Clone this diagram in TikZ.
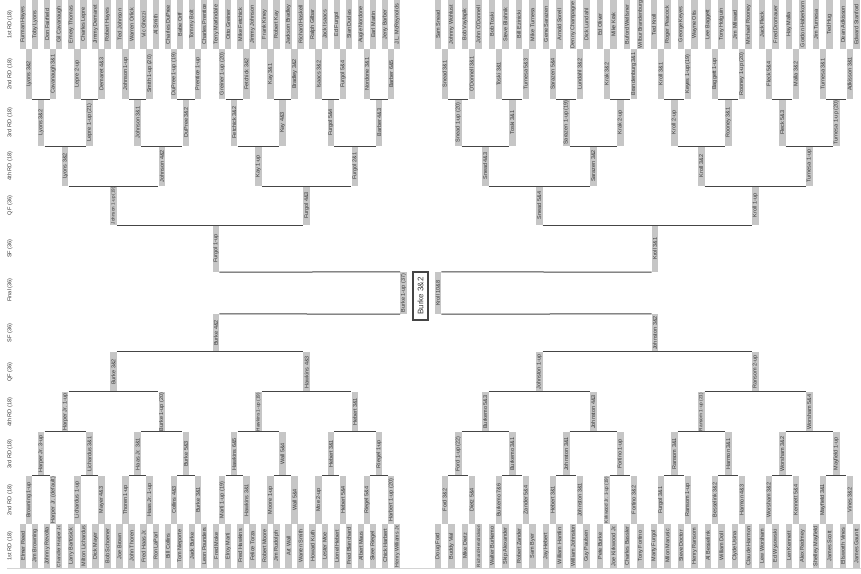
\documentclass[tikz,border=0pt]{standalone}
\usepackage{fontspec}
\setmainfont{Liberation Sans}
\usepackage{graphicx}
\definecolor{boxg}{HTML}{C6C6C6}
\definecolor{txt}{HTML}{383838}
\definecolor{lin}{HTML}{454545}
\definecolor{basel}{HTML}{D4D4D4}
\newsavebox\fitsbox
\newcommand\fitto[2]{\sbox\fitsbox{#2}\ifdim\wd\fitsbox>#1\relax\resizebox{#1}{!}{\usebox\fitsbox}\else\usebox\fitsbox\fi}
\tikzset{
  bx/.style={rotate=90, fill=boxg, inner sep=0pt, minimum height=6.5pt, text=txt, font=\fontsize{5.5}{6}\selectfont},
  conn/.style={draw=lin, line width=1pt},
  rlab/.style={rotate=90, text=txt, inner sep=0pt, font=\fontsize{5.6}{6}\selectfont},
  champ/.style={rotate=90, draw=lin, line width=1.4pt, fill=white, inner sep=0pt, minimum width=48pt, minimum height=15pt, text=txt, font=\fontsize{8}{9}\selectfont},
}
% #1 prefix, #2 first x, #3 step, #4 y centre, #5 height, #6 fit length, #7 list
\newcommand\rnd[7]{\foreach \t [count=\i from 0] in {#7}{\node[bx,minimum width=#5pt] (#1-\i) at ({#2+#3*\i},#4) {\fitto{#6pt}{\t}};}}
\newcommand\prT[2]{\foreach \j in {0,...,#2}{\pgfmathtruncatemacro\ja{2*\j}\pgfmathtruncatemacro\jb{2*\j+1}\draw[conn] (#1-\ja.south west) -- (#1-\jb.north west);}}
\newcommand\prB[2]{\foreach \j in {0,...,#2}{\pgfmathtruncatemacro\ja{2*\j}\pgfmathtruncatemacro\jb{2*\j+1}\draw[conn] (#1-\ja.south east) -- (#1-\jb.north east);}}
\begin{document}
\begin{tikzpicture}[x=1pt,y=-1pt]
\useasboundingbox[fill=white] (0,0) rectangle (861,573);
% row labels
\node[rlab] (l1) at (10,24.5) {1st RD (18)};
\node[rlab] (l2) at (10,74) {2nd RD (18)};
\node[rlab] (l3) at (10,122.5) {3rd RD (18)};
\node[rlab] (l4) at (10,166) {4th RD (18)};
\node[rlab] (l5) at (10,205.5) {QF (36)};
\node[rlab] (l6) at (10,248.5) {SF (36)};
\node[rlab] (l7) at (10,290) {Final (36)};
\node[rlab] (l8) at (10,333) {SF (36)};
\node[rlab] (l9) at (10,372) {QF (36)};
\node[rlab] (l10) at (10,412) {4th RD (18)};
\node[rlab] (l11) at (10,454) {3rd RD (18)};
\node[rlab] (l12) at (10,500) {2nd RD (18)};
\node[rlab] (l13) at (10,546) {1st RD (18)};
% base line
\coordinate (bl0) at (7,568);
\coordinate (bl1) at (861,568);
\draw[basel, line width=0.8pt] (bl0) -- (bl1);
% ===== top left =====
\rnd{TLa}{23}{12.07}{24.5}{49}{47}{Furman Hayes, Toby Lyons, Don Fairfield, Gil Cavanaugh, Emery Thomas, Charles Lepre, Jimmy Demaret, Robert Hayes, Ted Johnson, Warren Orlick, Vic Ghezzi, Al Smith, Charles DuPree, Babe Orff, Tommy Bolt, Charles Prentice, Terry Martindale, Otto Greiner, Mike Fetchick, Jimmy Johnson, Frank Kiney, Robert Kay, Jackson Bradley, Richard Haskell, Ralph Gilbar, Jack Isaacs, Ed Furgol, Stan Dudas, Augie Nordone, Earl Martin, Jerry Barber, J.L. McReynolds}
\rnd{TLb}{29.035}{24.14}{74}{50}{48}{Lyons 3\&2, Cavanaugh 3\&1, Lepre 2-up, Demaret 4\&3, Johnson 1-up, Smith 1-up (20), DuPree 1-up (19), Prentice 1-up, Greiner 1-up (20), Fetchick 3\&2, Kay 3\&1, Bradley 3\&2, Isaacs 3\&2, Furgol 5\&4, Nordone 3\&1, Barber 6\&5}
\rnd{TLc}{41.105}{48.28}{122.5}{47}{45}{Lyons 3\&2, Lepre 1-up (21), Johnson 3\&1, DuPree 3\&2, Fetchick 3\&2, Kay 4\&3, Furgol 5\&4, Barber 4\&3}
\rnd{TLd}{65.245}{96.56}{166}{40}{38}{Lyons 3\&2, Johnson 4\&2, Kay 1-up, Furgol 2\&1}
\rnd{TLe}{113.525}{193.12}{205.5}{39}{37}{Johnson 1-up (19), Furgol 4\&3}
\rnd{TLf}{216}{0}{248.5}{47}{45}{Furgol 1-up}
% ===== top right =====
\rnd{TRa}{438}{13.5}{24.5}{49}{47}{Sam Snead, Johnny Wohlust, Bob Vaylapik, John O'Donnell, Bob Toski, Steve Blahnik, Bill Ezinicki, Mike Turnesa, Gene Sarazen, Arnold Sorell, Denny Champagne, Dick Lundahl, Ed Oliver, Mike Krak, Buford Wellsner, Wilbur Brandenburg, Ted Kroll, Roger Peacock, George Keyes, Wayne Otis, Lee Baggett, Tony Holguin, Jim Milward, Michael Rooney, Jack Fleck, Fred Dromauer, Hay Malla, Gordon Haberkorn, Jim Turnesa, Ted Hug, Dean Adkisson, Edward Stanford}
\rnd{TRb}{444.75}{27}{74}{50}{48}{Snead 3\&1, O'Donnell 3\&1, Toski 3\&1, Turnesa 5\&3, Sarazen 5\&4, Lundahl 3\&2, Krak 3\&2, Brandenburg 3\&1, Kroll 3\&1, Keyes 1-up (19), Baggett 1-up, Rooney 1-up (20), Fleck 5\&4, Malla 3\&2, Turnesa 3\&1, Adkisson 3\&1}
\rnd{TRc}{458.25}{54}{122.5}{47}{45}{Snead 1-up (20), Toski 3\&1, Sarazen 1-up (19), Krak 2-up, Kroll 2-up, Rooney 3\&1, Fleck 5\&3, Turnesa 1-up (20)}
\rnd{TRd}{485.25}{108}{166}{40}{38}{Snead 4\&3, Sarazen 3\&2, Kroll 3\&2, Turnesa 1-up}
\rnd{TRe}{539.25}{216}{205.5}{39}{37}{Snead 5\&4, Kroll 1-up}
\rnd{TRf}{655}{0}{248.5}{47}{45}{Kroll 3\&1}
% ===== bottom left =====
\rnd{BLa}{23}{12.07}{546}{44}{42}{Elmer Reed, Jim Browning, Johnny Revolta, Chandler Harper Jr., Larry Bartosick, Milton Lichardus, Dick Mayer, Bob Schoener, Joe Brown, John Thoren, Fred Haas Jr., Ron LaParl, Bill Collins, Tom Nieporte, Jack Burke, Leon Pounders, Fred Moke, Elroy Marti, Fred Hawkins, Felice Torza, Robert Moore, Jim Rudolph, Art Wall, Warren Smith, Howard Kuth, Lester Moe, Lionel Hebert, Fred Blanchard, Albert Maus, Skee Riegel, Chick Harbert, Henry Williams Jr.}
\rnd{BLb}{29.035}{24.14}{500}{48}{46}{Browning 1-up, Harper Jr. (default), Lichardus 1-up, Mayer 4\&3, Thoren 1-up, Haas Jr. 1-up, Collins 4\&3, Burke 3\&1, Marti 1-up (19), Hawkins 3\&1, Moore 1-up, Wall 5\&4, Moe 2-up, Hebert 5\&4, Riegel 5\&4, Harbert 1-up (20)}
\rnd{BLc}{41.105}{48.28}{454}{44}{42}{Harper Jr. 3-up, Lichardus 3\&1, Haas Jr. 3\&1, Burke 5\&3, Hawkins 6\&5, Wall 5\&4, Hebert 3\&1, Riegel 1-up}
\rnd{BLd}{65.245}{96.56}{412}{40}{38}{Harper Jr. 1-up, Burke 1-up (20), Hawkins 1-up (19), Hebert 3\&1}
\rnd{BLe}{113.525}{193.12}{372}{40}{38}{Burke 3\&2, Hawkins 4\&3}
\rnd{BLf}{216}{0}{333}{38}{36}{Burke 4\&2}
% ===== bottom right =====
\rnd{BRa}{438}{13.5}{546}{44}{42}{Doug Ford, Buddy Vial, Mike Dietz, Richard Hendrickson, Walter Burkemo, Skip Alexander, Robert Zander, Sam Byer, Jay Hebert, William Hamlin, William Johnston, Guy Paulsen, Pete Burke, Joe Kirkwood Jr., Charles Bassler, Tony Fortino, Marty Furgol, Milon Marusic, Steve Doctor, Henry Ransom, Al Besselink, William Doll, Clyde Usina, Claude Harmon, Lew Worsham, Ed Wysowski, Len Kennett, Alex Redmey, Shelley Mayfield, James Scott, Ellsworth Vines, James Gauntt}
\rnd{BRb}{444.75}{27}{500}{48}{46}{Ford 3\&2, Dietz 5\&4, Burkemo 7\&6, Zander 5\&4, Hebert 3\&1, Johnston 3\&1, Kirkwood Jr. 1-up (19), Fortino 3\&2, Furgol 3\&1, Ransom 1-up, Besselink 3\&2, Harmon 4\&3, Worsham 3\&2, Kennett 5\&4, Mayfield 3\&1, Vines 3\&2}
\rnd{BRc}{458.25}{54}{454}{44}{42}{Ford 1-up (22), Burkemo 3\&1, Johnston 3\&1, Fortino 1-up, Ransom 3\&1, Harmon 3\&1, Worsham 3\&2, Mayfield 1-up}
\rnd{BRd}{485.25}{108}{412}{40}{38}{Burkemo 5\&3, Johnston 4\&3, Ransom 1-up (21), Worsham 5\&4}
\rnd{BRe}{539.25}{216}{372}{40}{38}{Johnston 1-up, Ransom 2-up}
\rnd{BRf}{655}{0}{333}{38}{36}{Johnston 3\&2}
% ===== final =====
\node[bx,minimum width=42pt] (FL) at (403.5,293) {\fitto{40pt}{Burke 1-up (37)}};
\node[bx,minimum width=42pt] (FR) at (438,293) {\fitto{40pt}{Kroll 10\&8}};
\node[champ] (CH) at (420.5,296) {Burke 3\&2};
% ===== connectors =====
\prT{TLb}{7}\prT{TLc}{3}\prT{TLd}{1}\prT{TLe}{0}
\prT{TRb}{7}\prT{TRc}{3}\prT{TRd}{1}\prT{TRe}{0}
\prB{BLb}{7}\prB{BLc}{3}\prB{BLd}{1}\prB{BLe}{0}
\prB{BRb}{7}\prB{BRc}{3}\prB{BRd}{1}\prB{BRe}{0}
\draw[conn] (TLf-0.south west) -- (FL.north east);
\draw[conn] (BLf-0.south east) -- (FL.north west);
\draw[conn] (TRf-0.north west) -- (FR.south east);
\draw[conn] (BRf-0.north east) -- (FR.south west);
\end{tikzpicture}
\end{document}
